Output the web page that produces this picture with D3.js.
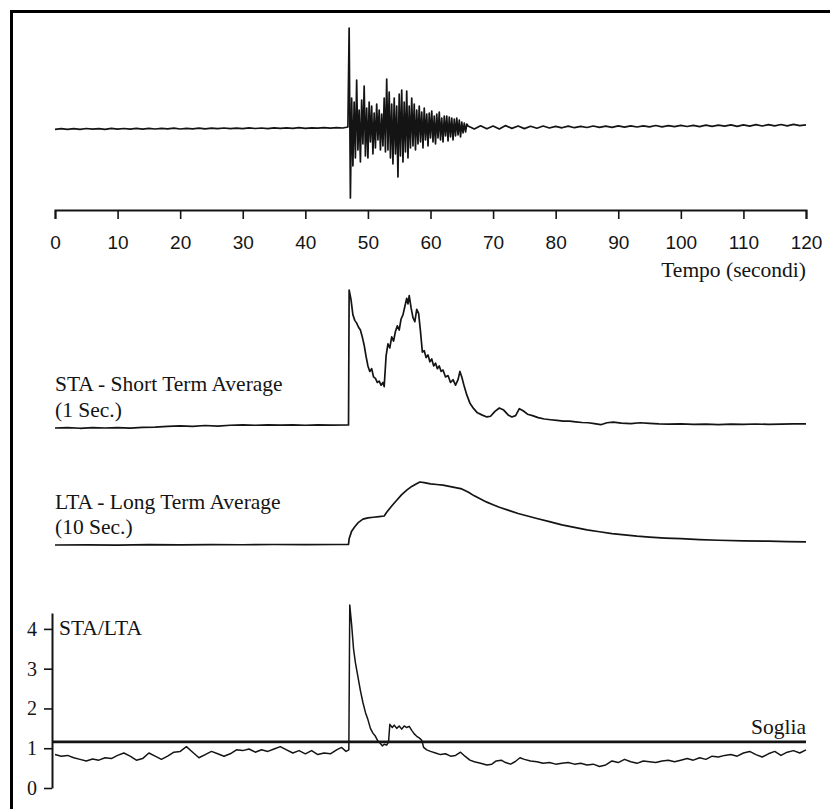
<!DOCTYPE html>
<html>
<head>
<meta charset="utf-8">
<script src="https://cdn.jsdelivr.net/npm/d3@7"></script>
<style>
  html, body { margin: 0; padding: 0; background: #fff; }
  svg { display: block; }
</style>
</head>
<body>
<div id="chart"></div>
<script>
// time axis ticks (seconds)
const timeTicks = [0, 10, 20, 30, 40, 50, 60, 70, 80, 90, 100, 110, 120];
const ratioTicks = [0, 1, 2, 3, 4];
const SOGLIA = 1.16;

// seismogram: three stretches sampled at fixed steps
const seisPre = { start: 0, step: 1, values: [
  -1.4, -0.6, -1.3, -0.6, -1.4, -0.5, -1.2, -0.6, -1.3, -0.4,
  -1.2, -0.5, -1.1, -0.4, -1.2, -0.3, -1.0, -0.4, -0.9, -0.2,
  -1.0, -0.3, -0.8, -0.1, -0.9, -0.2, -0.7, 0, -0.7, -0.1,
  -0.6, 0.1, -0.5, 0, -0.6, 0.2, -0.4, 0.1, -0.3, 0.3,
  -0.4, 0.2, -0.2, 0.4, -0.1, 0.3, 0
]};
const seisEvent = { start: 46.8, step: 0.2, values: [
  1, 100, -70, 30, -38, 26, -30, 48, -22, 18, -34, 28, -16, 42, -28, 20,
  -30, 26, -14, 22, -26, 15, -20, 24, -12, 18, -22, 14, -18, 30, -24, 49,
  -22, 36, -30, 24, -36, 30, -26, 22, -49, 34, -28, 38, -34, 26, -24, 37,
  -30, 22, -20, 30, -18, 24, -22, 18, -16, 22, -14, 16, -20, 20, -12, 14,
  -18, 15, -10, 17, -14, 12, -16, 14, -10, 16, -12, 10, -14, 12, -8, 12,
  -13, 11, -9, 10, -12, 9, -8, 10, -7, 8, -9, 6, -5, 5, -4, 4
]};
const seisPost = { start: 66, step: 1, values: [
  2, -1, 2.2, -0.8, 2, -1, 2.4, -0.4, 2, -0.6,
  1.8, -0.2, 2, 0, 1.6, 0.2, 1.9, 0.3, 1.7, 0.5,
  2, 0.6, 1.8, 0.7, 2.1, 0.9, 2.2, 1, 2.1, 1.1,
  2.5, 1.2, 2.3, 1.4, 2.6, 1.5, 2.7, 1.4, 2.8, 1.6,
  2.9, 1.8, 3.1, 1.7, 3.2, 1.9, 3.3, 2, 3.4, 2.1,
  3.5, 2.2, 3.6, 2.3, 3.2
]};

// STA (1 s) – [time, relative amplitude]
const staData = [
  [0, 0], [2, 0.3], [4, -0.2], [6, 0.2], [8, 0], [10, 0.3], [12, -0.1], [14, 0.4], [16, 0.6],
  [18, 1.2], [20, 1.6], [22, 1.2], [24, 1.8], [26, 1.4], [28, 2.0], [30, 2.2], [32, 2.0],
  [34, 2.3], [36, 2.1], [38, 2.2], [40, 2.0], [42, 2.2], [44, 2.1], [46.9, 2.2],
  [47.0, 100], [47.3, 93], [47.6, 82], [47.9, 78], [48.2, 76], [48.5, 73], [48.8, 71],
  [49.1, 66], [49.4, 60], [49.7, 52], [50.0, 45], [50.3, 41], [50.6, 43], [50.9, 37],
  [51.2, 36], [51.5, 33], [51.8, 34], [52.1, 31], [52.4, 33], [52.6, 30], [52.9, 52],
  [53.2, 61], [53.5, 58], [53.8, 66], [54.1, 63], [54.4, 70], [54.7, 74], [55.0, 71],
  [55.3, 79], [55.6, 82], [55.9, 88], [56.2, 94], [56.4, 90], [56.6, 96], [56.9, 87],
  [57.2, 80], [57.5, 77], [57.8, 86], [58.1, 83], [58.4, 70], [58.7, 55], [59.0, 56],
  [59.3, 51], [59.6, 53], [59.9, 48], [60.2, 50], [60.5, 45], [60.8, 47], [61.1, 43],
  [61.4, 45], [61.7, 41], [62.0, 42], [62.4, 37], [62.8, 38], [63.2, 33], [63.6, 35],
  [64.0, 31], [64.4, 35], [64.7, 41], [65.0, 37], [65.4, 30], [65.8, 24], [66.3, 18],
  [66.9, 14], [67.5, 11], [68.2, 9.5], [69.0, 8], [69.6, 8.5], [70.3, 12], [71.0, 14.5],
  [71.7, 13], [72.4, 9.5], [73.0, 8], [73.6, 9], [74.2, 14], [74.8, 12.5], [75.5, 10],
  [76.3, 9], [77.2, 7.5], [78.2, 6.5], [79.2, 6], [80.2, 5.5], [81.2, 5], [82.2, 5],
  [83.2, 4.5], [84.2, 4], [85.2, 3.8], [86.2, 3.2], [87.2, 2.4], [88.2, 3.8], [89.2, 4.2],
  [90.5, 3.5], [92, 3.2], [93.5, 3.8], [95, 3.4], [96.5, 3.0], [98, 2.8], [100, 3.0],
  [102, 2.6], [104, 2.8], [106, 2.4], [108, 2.8], [110, 2.6], [112, 2.9], [114, 2.6],
  [116, 2.8], [118, 3.0], [120, 3.0]
];

// LTA (10 s) – [time, relative amplitude]
const ltaData = [
  [0, 0], [5, 0.3], [10, -0.3], [15, 0.5], [20, 0.2], [25, 0.6], [30, 0.4], [35, 0.8],
  [40, 0.6], [45, 0.8], [46.9, 0.8],
  [47.0, 10], [47.4, 22], [47.9, 29], [48.5, 36], [49.2, 41], [50.0, 43], [50.9, 44],
  [51.8, 45], [52.6, 46], [53.0, 52], [53.8, 62], [54.6, 71], [55.4, 80], [56.2, 87],
  [57.0, 93], [57.7, 97], [58.3, 100], [59.0, 99], [60.0, 97], [61.0, 96], [62.0, 95],
  [63.0, 93], [64.0, 91], [65.0, 89], [66.0, 84], [67.0, 78], [68.0, 73], [69.0, 68],
  [70.0, 64], [71.0, 60], [72.5, 55], [74.0, 50], [75.5, 46], [77.0, 42], [79.0, 37],
  [81.0, 32], [83.0, 28], [85.0, 24], [87.0, 21], [89.0, 18], [91.0, 16], [93.0, 14],
  [95.0, 12.5], [97.5, 11], [100, 10], [103, 8.5], [106, 7.5], [110, 6.5], [114, 6],
  [117, 5.5], [120, 5]
];

// STA/LTA ratio – [time, ratio]
const ratioData = [
  [0, 0.84], [1, 0.80], [2, 0.82], [3, 0.76], [4, 0.72], [5, 0.68], [6, 0.73], [7, 0.70],
  [8, 0.76], [9, 0.74], [10, 0.82], [11, 0.88], [12, 0.80], [13, 0.70], [14, 0.74], [15, 0.88],
  [16, 0.80], [17, 0.72], [18, 0.80], [19, 0.90], [20, 0.92], [21, 1.04], [22, 0.90], [23, 0.76],
  [24, 0.84], [25, 0.92], [26, 0.86], [27, 0.80], [28, 0.86], [29, 0.96], [30, 0.94], [31, 0.98],
  [32, 0.90], [33, 0.96], [34, 0.92], [35, 0.98], [36, 1.04], [37, 0.96], [38, 0.88], [39, 0.94],
  [40, 0.86], [41, 0.94], [42, 0.84], [43, 0.88], [44, 0.86], [45, 0.96], [45.8, 1.02],
  [46.5, 0.92], [46.95, 0.96],
  [47.1, 4.6], [47.4, 4.1], [47.7, 3.5], [48.0, 3.15], [48.4, 2.8], [48.8, 2.45], [49.2, 2.15],
  [49.6, 1.9], [50.0, 1.72], [50.4, 1.5], [50.8, 1.38], [51.2, 1.3], [51.6, 1.18], [52.0, 1.12],
  [52.3, 1.06], [52.6, 1.1], [53.0, 1.08], [53.3, 1.16], [53.5, 1.6], [53.9, 1.52], [54.2, 1.58],
  [54.6, 1.5], [55.0, 1.56], [55.4, 1.48], [55.8, 1.56], [56.2, 1.52], [56.6, 1.55], [57.0, 1.45],
  [57.4, 1.36], [57.8, 1.3], [58.2, 1.26], [58.6, 1.2], [58.9, 1.02], [59.4, 0.96], [60.0, 0.92],
  [60.8, 0.88], [61.6, 0.84], [62.4, 0.86], [63.2, 0.8], [64.0, 0.82], [64.8, 0.9], [65.5, 0.8],
  [66.3, 0.7], [67.0, 0.66], [68.0, 0.62], [69.0, 0.58], [69.8, 0.6], [70.5, 0.68], [71.3, 0.7],
  [72.0, 0.64], [72.8, 0.6], [73.5, 0.66], [74.3, 0.76], [75.0, 0.72], [76.0, 0.68], [77.0, 0.66],
  [78.0, 0.62], [79.0, 0.64], [80.0, 0.6], [81.0, 0.62], [82.0, 0.64], [83.0, 0.6], [84.0, 0.62],
  [85.0, 0.58], [86.0, 0.6], [87.0, 0.54], [88.0, 0.58], [89.0, 0.68], [90.0, 0.64], [91.0, 0.72],
  [92.0, 0.66], [93.0, 0.62], [94.0, 0.68], [95.0, 0.66], [96.0, 0.64], [97.0, 0.68], [98.0, 0.7],
  [99.0, 0.66], [100.0, 0.7], [101.0, 0.74], [102.0, 0.7], [103.0, 0.76], [104.0, 0.72],
  [105.0, 0.8], [106.0, 0.78], [107.0, 0.82], [108.0, 0.84], [109.0, 0.8], [110.0, 0.88],
  [111.0, 0.92], [112.0, 0.84], [113.0, 0.78], [114.0, 0.86], [115.0, 0.92], [116.0, 0.82],
  [117.0, 0.9], [118.0, 0.94], [119.0, 0.88], [120.0, 0.96]
];

const W = 830, H = 809;
const INK = "#141414";
const SERIF = "'Liberation Serif', 'Times New Roman', serif";
const SANS = "'Liberation Sans', Arial, sans-serif";

const svg = d3.select("#chart").append("svg")
  .attr("width", W).attr("height", H)
  .style("background", "#fff");

// frame (only top and left edges are inside the picture)
svg.append("path")
  .attr("d", `M11.5,${H} V11.5 H${W}`)
  .attr("fill", "none").attr("stroke", "#000").attr("stroke-width", 3);

const x = d3.scaleLinear().domain([0, 120]).range([55, 806]);

function label(px, py, txt, size, anchor) {
  svg.append("text")
    .attr("x", px).attr("y", py)
    .attr("text-anchor", anchor || "start")
    .attr("font-family", SERIF).attr("font-size", size).attr("fill", INK)
    .text(txt);
}

// ── Seismogram ─────────────────────────────────────────────
const ySeis = d3.scaleLinear().domain([-100, 100]).range([228, 28]);
const seisPts = [];
[seisPre, seisEvent, seisPost].forEach(s => {
  s.values.forEach((v, i) => seisPts.push([s.start + i * s.step, v]));
});

svg.append("path")
  .datum(seisPts)
  .attr("fill", "none").attr("stroke", INK).attr("stroke-width", 1.7)
  .attr("stroke-linejoin", "round")
  .attr("d", d3.line().x(d => x(d[0])).y(d => ySeis(d[1])));

// time axis
const axisX = svg.append("g")
  .attr("transform", "translate(0,210)")
  .call(d3.axisBottom(x).tickValues(timeTicks).tickSizeInner(9).tickSizeOuter(9));
axisX.select(".domain").attr("stroke", INK).attr("stroke-width", 2);
axisX.selectAll(".tick line").attr("stroke", INK).attr("stroke-width", 1.6);
axisX.selectAll(".tick text")
  .attr("y", 39).attr("dy", null)
  .attr("font-family", SANS).attr("font-size", 19).attr("fill", INK);

label(806, 277, "Tempo (secondi)", 21.5, "end");

// ── STA ────────────────────────────────────────────────────
const ySta = d3.scaleLinear().domain([0, 100]).range([428, 290]);
svg.append("path")
  .datum(staData)
  .attr("fill", "none").attr("stroke", INK).attr("stroke-width", 1.7)
  .attr("stroke-linejoin", "round")
  .attr("d", d3.line().x(d => x(d[0])).y(d => ySta(d[1])));

label(55, 391, "STA - Short Term Average", 21.5);
label(55, 417, "(1 Sec.)", 21.5);

// ── LTA ────────────────────────────────────────────────────
const yLta = d3.scaleLinear().domain([0, 100]).range([545, 482]);
svg.append("path")
  .datum(ltaData)
  .attr("fill", "none").attr("stroke", INK).attr("stroke-width", 1.7)
  .attr("stroke-linejoin", "round")
  .attr("d", d3.line().x(d => x(d[0])).y(d => yLta(d[1])));

label(55, 509, "LTA - Long Term Average", 21.5);
label(55, 534, "(10 Sec.)", 21.5);

// ── STA/LTA ────────────────────────────────────────────────
const yRatio = d3.scaleLinear().domain([0, 4.4]).range([788, 613]);

const axisY = svg.append("g")
  .attr("transform", "translate(52,0)")
  .call(d3.axisLeft(yRatio).tickValues(ratioTicks).tickFormat(d3.format("d"))
    .tickSizeInner(8).tickSizeOuter(0).tickPadding(7));
axisY.select(".domain").attr("stroke", INK).attr("stroke-width", 2);
axisY.selectAll(".tick line").attr("stroke", INK).attr("stroke-width", 1.6);
axisY.selectAll(".tick text")
  .attr("font-family", SERIF).attr("font-size", 20).attr("fill", INK);

svg.append("line")
  .attr("x1", 52).attr("x2", 806)
  .attr("y1", yRatio(SOGLIA)).attr("y2", yRatio(SOGLIA))
  .attr("stroke", INK).attr("stroke-width", 2.6);

svg.append("path")
  .datum(ratioData)
  .attr("fill", "none").attr("stroke", INK).attr("stroke-width", 1.5)
  .attr("stroke-linejoin", "round")
  .attr("d", d3.line().x(d => x(d[0])).y(d => yRatio(d[1])));

label(59, 635, "STA/LTA", 21.5);
label(806, 734, "Soglia", 21.5, "end");
</script>
</body>
</html>
